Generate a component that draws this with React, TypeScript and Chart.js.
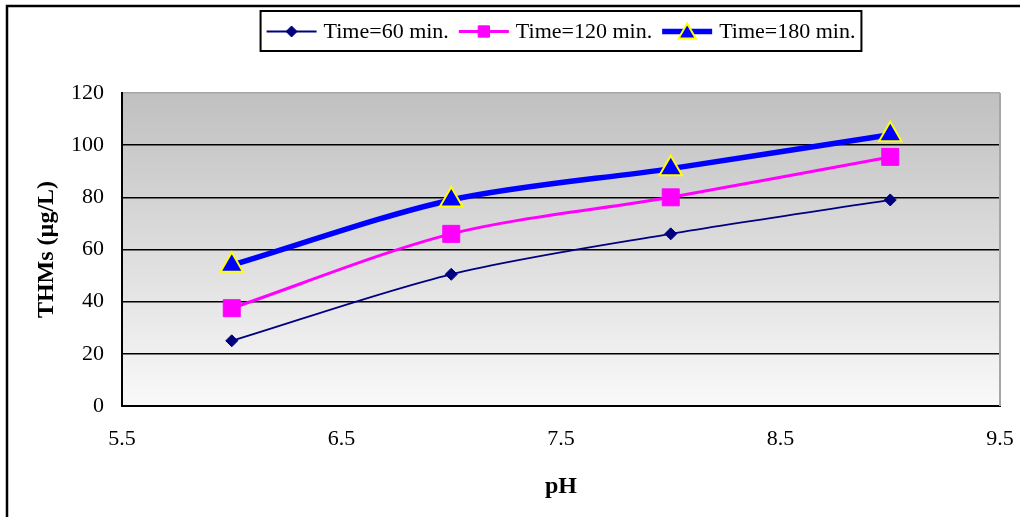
import React, { useEffect, useRef } from 'react';
import { Chart, registerables } from 'chart.js';
import { drawPoint } from 'chart.js/helpers';

Chart.register(...registerables);

const phValues = [6, 7, 8, 9];
const thm60 = [25, 50.5, 66, 79];
const thm120 = [37.5, 66, 80, 95.5];
const thm180 = [54, 79, 91, 104];
const seriesLabels = ['Time=60 min.', 'Time=120 min.', 'Time=180 min.'];
const xTicks = [5.5, 6.5, 7.5, 8.5, 9.5];
const yTicks = [0, 20, 40, 60, 80, 100, 120];
const xTitle = 'pH';
const yTitle = 'THMs (µg/L)';

const FONT = "'Liberation Serif', 'Times New Roman', serif";
const legendRadii = [5.5, 8, 10];

const bgPlugin = {
  id: 'bgPlugin',
  beforeDraw(chart: any) {
    const { ctx, chartArea: a, width, height } = chart;
    ctx.save();
    ctx.fillStyle = '#ffffff';
    ctx.fillRect(0, 0, width, height);
    const g = ctx.createLinearGradient(0, a.top, 0, a.bottom);
    g.addColorStop(0, '#c0c0c0');
    g.addColorStop(1, '#f9f9f9');
    ctx.fillStyle = g;
    ctx.fillRect(a.left, a.top, a.right - a.left, a.bottom - a.top);
    // outer frame
    ctx.strokeStyle = '#000000';
    ctx.lineWidth = 2.5;
    ctx.strokeRect(7, 6, width + 50, height + 50);
    ctx.restore();
  },
  beforeDatasetsDraw(chart: any) {
    const { ctx, chartArea: a } = chart;
    ctx.save();
    ctx.strokeStyle = '#a6a6a6';
    ctx.lineWidth = 2;
    ctx.beginPath();
    ctx.moveTo(a.right, a.top);
    ctx.lineTo(a.right, a.bottom);
    ctx.stroke();
    ctx.restore();
  },
};

const legendPlugin = {
  id: 'boxLegend',
  afterDraw(chart: any) {
    const ctx = chart.ctx;
    const a = chart.chartArea;
    ctx.save();
    ctx.font = `22px ${FONT}`;
    const lineLen = 50;
    const gapLT = 7;
    const gapItem = 10;
    const padX = 6;
    const ds = chart.data.datasets;
    const widths = ds.map((d: any) => ctx.measureText(d.label).width);
    const total =
      padX * 2 +
      widths.reduce((s: number, w: number) => s + lineLen + gapLT + w, 0) +
      gapItem * (ds.length - 1);
    const cx = (a.left + a.right) / 2;
    const left = cx - total / 2;
    const top = 11;
    const h = 40;
    ctx.fillStyle = '#ffffff';
    ctx.fillRect(left, top, total, h);
    ctx.strokeStyle = '#000000';
    ctx.lineWidth = 2;
    ctx.strokeRect(left, top, total, h);
    const y = top + h / 2 + 0.5;
    let x = left + padX;
    ds.forEach((d: any, i: number) => {
      ctx.strokeStyle = d.borderColor;
      ctx.lineWidth = d.borderWidth;
      ctx.beginPath();
      ctx.moveTo(x, y);
      ctx.lineTo(x + lineLen, y);
      ctx.stroke();
      ctx.fillStyle = d.pointBackgroundColor;
      ctx.strokeStyle = d.pointBorderColor;
      ctx.lineWidth = d.pointBorderWidth;
      drawPoint(
        ctx,
        { pointStyle: d.pointStyle, radius: legendRadii[i], rotation: 0, borderWidth: d.pointBorderWidth } as any,
        x + lineLen / 2,
        y + (d.pointStyle === 'triangle' ? 2 : 0)
      );
      ctx.fillStyle = '#000000';
      ctx.textBaseline = 'middle';
      ctx.textAlign = 'left';
      ctx.fillText(d.label, x + lineLen + gapLT, y + 1);
      x += lineLen + gapLT + widths[i] + gapItem;
    });
    ctx.restore();
  },
};

export default function App() {
  const ref = useRef<HTMLCanvasElement>(null);

  useEffect(() => {
    if (!ref.current) return;
    const toPts = (ys: number[]) => phValues.map((x, i) => ({ x, y: ys[i] }));
    const chart = new Chart(ref.current, {
      type: 'line',
      data: {
        datasets: [
          {
            label: seriesLabels[0],
            data: toPts(thm60),
            borderColor: '#000080',
            backgroundColor: '#000080',
            borderWidth: 1.8,
            pointStyle: 'rectRot',
            pointRadius: 6,
            pointHoverRadius: 6,
            pointBackgroundColor: '#000080',
            pointBorderColor: '#000080',
            pointBorderWidth: 1,
            tension: 0.3,
            order: 3,
          },
          {
            label: seriesLabels[1],
            data: toPts(thm120),
            borderColor: '#ff00ff',
            backgroundColor: '#ff00ff',
            borderWidth: 3,
            pointStyle: 'rect',
            pointRadius: 12,
            pointHoverRadius: 12,
            pointBackgroundColor: '#ff00ff',
            pointBorderColor: '#ff00ff',
            pointBorderWidth: 1,
            tension: 0.3,
            order: 2,
          },
          {
            label: seriesLabels[2],
            data: toPts(thm180),
            borderColor: '#0000ff',
            backgroundColor: '#0000ff',
            borderWidth: 5.5,
            pointStyle: 'triangle',
            pointRadius: 13,
            pointHoverRadius: 13,
            pointBackgroundColor: '#0000ff',
            pointBorderColor: '#ffff00',
            pointBorderWidth: 2,
            tension: 0.3,
            order: 1,
          },
        ] as any,
      },
      options: {
        animation: false,
        responsive: false,
        maintainAspectRatio: false,
        events: [],
        layout: { padding: { left: 28, top: 93, right: 20, bottom: 12 } },
        plugins: {
          legend: { display: false },
          tooltip: { enabled: false },
        },
        scales: {
          x: {
            type: 'linear',
            min: xTicks[0],
            max: xTicks[xTicks.length - 1],
            afterBuildTicks: (s: any) => {
              s.ticks = xTicks.map((v) => ({ value: v }));
            },
            afterFit: (s: any) => {
              s.height = 99;
              s.paddingLeft = 0;
              s.paddingRight = 0;
            },
            grid: { display: false, drawTicks: false },
            border: { display: true, color: '#000000', width: 2 },
            ticks: {
              color: '#000000',
              font: { family: FONT, size: 22 },
              padding: 20,
              maxRotation: 0,
              autoSkip: false,
              callback: (v: any) => Number(v).toFixed(1),
            },
            title: {
              display: true,
              text: xTitle,
              color: '#000000',
              font: { family: FONT, size: 24, weight: 'bold' },
            },
          },
          y: {
            type: 'linear',
            min: yTicks[0],
            max: yTicks[yTicks.length - 1],
            afterBuildTicks: (s: any) => {
              s.ticks = yTicks.map((v) => ({ value: v }));
            },
            afterFit: (s: any) => {
              s.width = 94;
              s.paddingTop = 0;
              s.paddingBottom = 0;
            },
            grid: {
              drawTicks: false,
              color: (c: any) => (c.tick && c.tick.value === 120 ? '#a6a6a6' : '#000000'),
              lineWidth: 1.5,
            },
            border: { display: true, color: '#000000', width: 2 },
            ticks: {
              color: '#000000',
              font: { family: FONT, size: 22 },
              padding: 18,
              autoSkip: false,
            },
            title: {
              display: true,
              text: yTitle,
              color: '#000000',
              font: { family: FONT, size: 24, weight: 'bold' },
            },
          },
        },
      },
      plugins: [bgPlugin, legendPlugin],
    });
    return () => chart.destroy();
  }, []);

  return (
    <div style={{ position: 'fixed', left: 0, top: 0, width: 1020, height: 517, overflow: 'hidden', background: '#fff' }}>
      <canvas ref={ref} width={1020} height={517} style={{ display: 'block', width: 1020, height: 517 }} />
    </div>
  );
}
